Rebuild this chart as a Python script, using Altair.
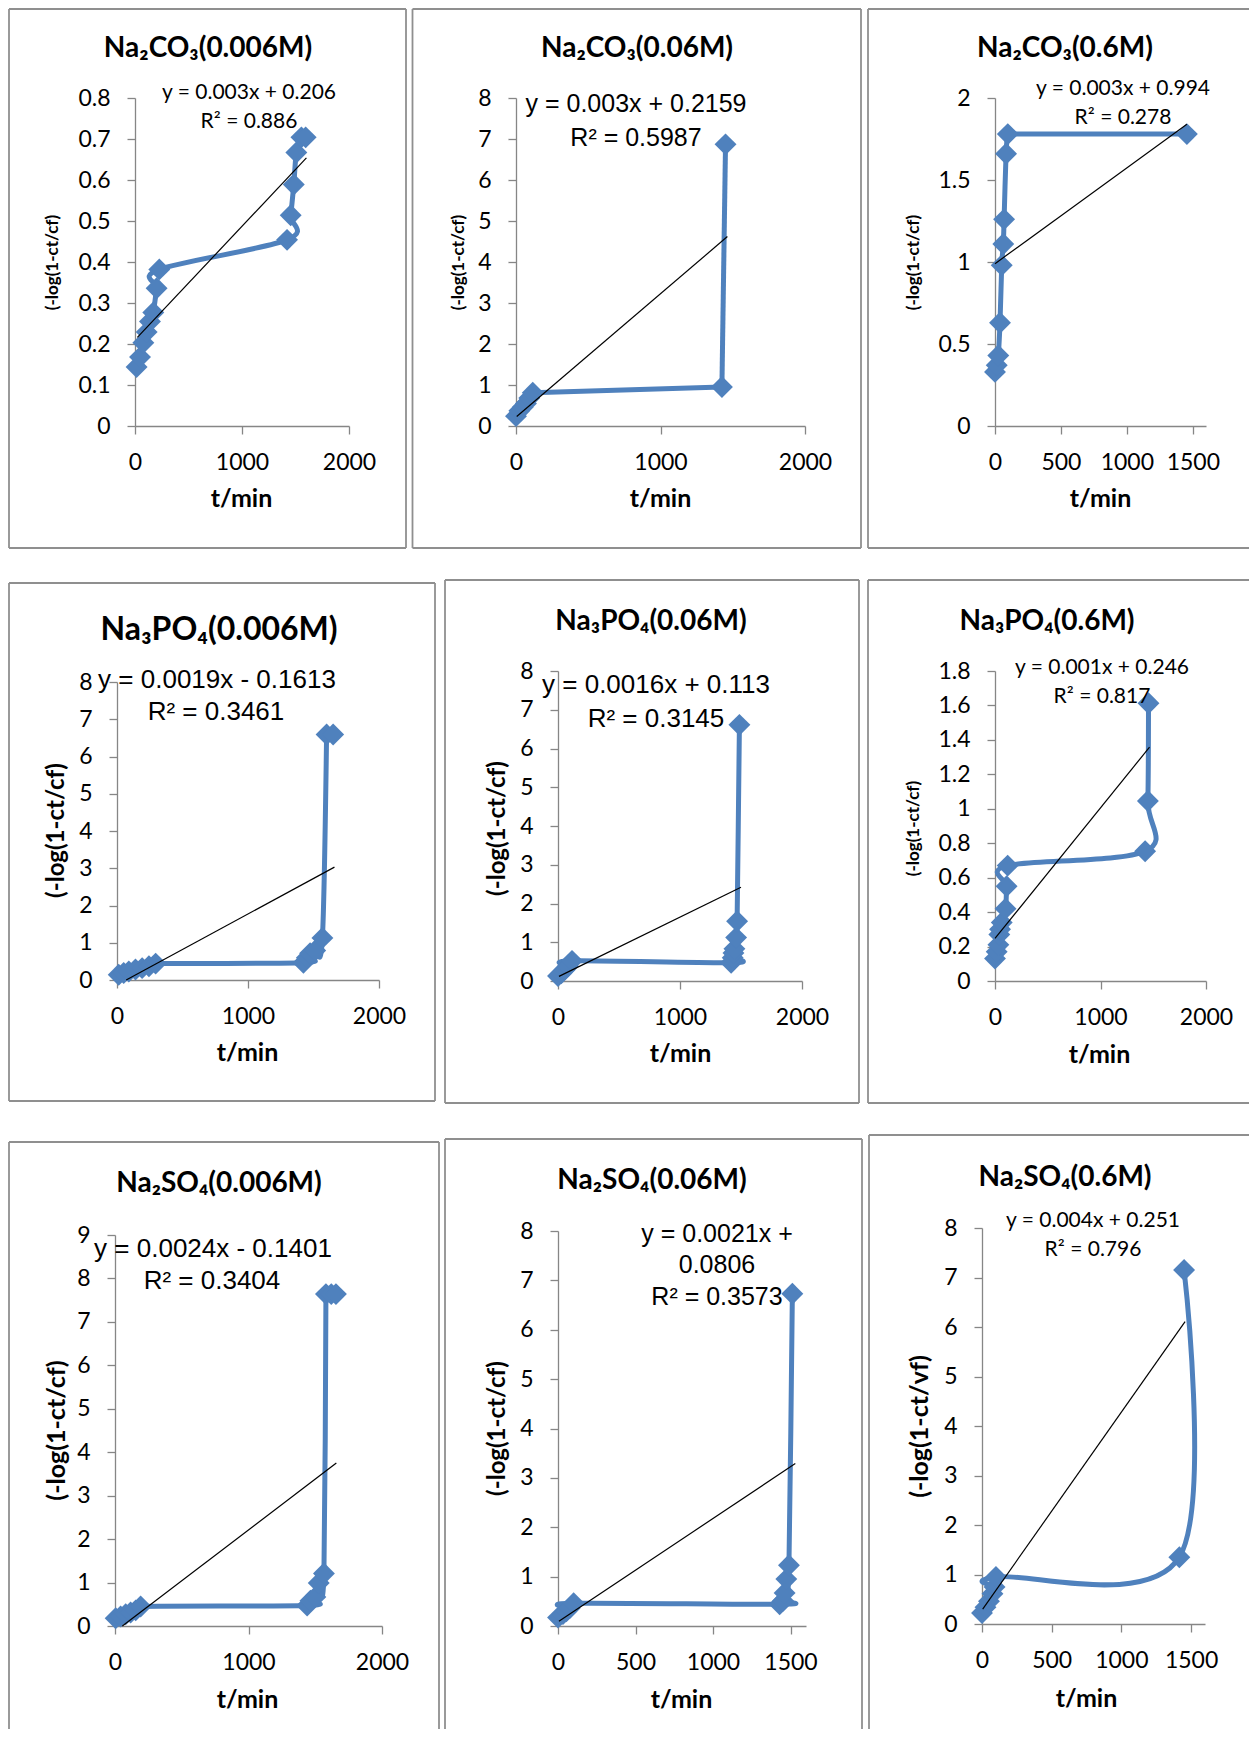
import altair as alt
import pandas as pd

# ---------------- data ----------------
p1_t = [15, 47, 78, 109, 140, 171, 202, 227, 1421, 1455, 1484, 1508, 1555, 1595]
p1_y = [0.144, 0.168, 0.203, 0.229, 0.255, 0.277, 0.336, 0.382, 0.454, 0.514, 0.589, 0.667, 0.704, 0.704]
p1_tr_t = [22, 1602]
p1_tr_y = [0.216, 0.654]

p2_t = [0, 23, 46, 69, 92, 116, 1425, 1450]
p2_y = [0.24, 0.37, 0.46, 0.55, 0.68, 0.81, 0.95, 6.87]
p2_tr_t = [5, 1463]
p2_tr_y = [0.23, 4.62]

p3_t = [0, 13, 25, 38, 51, 63, 69, 84, 97, 1455]
p3_y = [0.33, 0.37, 0.43, 0.63, 0.98, 1.11, 1.26, 1.66, 1.78, 1.78]
p3_tr_t = [0, 1455]
p3_tr_y = [0.99, 1.84]

p4_t = [13, 51, 90, 141, 192, 244, 295, 1423, 1449, 1474, 1513, 1568, 1600, 1650]
p4_y = [0.14, 0.19, 0.23, 0.28, 0.32, 0.37, 0.44, 0.46, 0.6, 0.72, 0.79, 1.13, 6.59, 6.59]
p4_tr_t = [70, 1660]
p4_tr_y = [0.0, 3.03]

p5_t = [0, 27, 55, 82, 115, 1419, 1432, 1438, 1446, 1460, 1468, 1487]
p5_y = [0.13, 0.2, 0.29, 0.38, 0.52, 0.47, 0.6, 0.72, 0.83, 1.12, 1.54, 6.61]
p5_tr_t = [8, 1500]
p5_tr_y = [0.12, 2.42]

p6_t = [0, 16, 32, 41, 48, 64, 100, 110, 120, 1423, 1449, 1455]
p6_y = [0.13, 0.17, 0.21, 0.27, 0.30, 0.34, 0.42, 0.55, 0.67, 0.753, 1.045, 1.613]
p6_tr_t = [0, 1465]
p6_tr_y = [0.247, 1.358]

p7_t = [5, 42, 80, 117, 155, 192, 1439, 1464, 1501, 1526, 1565, 1580, 1620, 1655]
p7_y = [0.18, 0.22, 0.27, 0.31, 0.36, 0.45, 0.47, 0.58, 0.67, 0.99, 1.21, 7.64, 7.64, 7.64]
p7_tr_t = [55, 1658]
p7_tr_y = [0.0, 3.75]

p8_t = [0, 32, 54, 75, 101, 1430, 1452, 1462, 1473, 1490, 1512]
p8_y = [0.17, 0.24, 0.30, 0.36, 0.46, 0.44, 0.51, 0.67, 0.95, 1.23, 6.73]
p8_tr_t = [6, 1531]
p8_tr_y = [0.095, 3.29]

p9_t = [0, 25, 50, 75, 90, 100, 1416, 1450]
p9_y = [0.22, 0.34, 0.46, 0.61, 0.75, 0.95, 1.35, 7.15]
p9_tr_t = [5, 1457]
p9_tr_y = [0.3, 6.11]

x_ticks_2000 = [0, 1000, 2000]
x_ticks_1500 = [0, 500, 1000, 1500]
p1_yticks = [0, 0.1, 0.2, 0.3, 0.4, 0.5, 0.6, 0.7, 0.8]
p3_yticks = [0, 0.5, 1, 1.5, 2]
p6_yticks = [0, 0.2, 0.4, 0.6, 0.8, 1, 1.2, 1.4, 1.6, 1.8]
yticks_8 = [0, 1, 2, 3, 4, 5, 6, 7, 8]
yticks_9 = [0, 1, 2, 3, 4, 5, 6, 7, 8, 9]

titles = ["Na₂CO₃(0.006M)", "Na₂CO₃(0.06M)", "Na₂CO₃(0.6M)",
          "Na₃PO₄(0.006M)", "Na₃PO₄(0.06M)", "Na₃PO₄(0.6M)",
          "Na₂SO₄(0.006M)", "Na₂SO₄(0.06M)", "Na₂SO₄(0.6M)"]
equations = [["y = 0.003x + 0.206", "R² = 0.886"],
             ["y = 0.003x + 0.2159", "R² = 0.5987"],
             ["y = 0.003x + 0.994", "R² = 0.278"],
             ["y = 0.0019x - 0.1613", "R² = 0.3461"],
             ["y = 0.0016x + 0.113", "R² = 0.3145"],
             ["y = 0.001x + 0.246", "R² = 0.817"],
             ["y = 0.0024x - 0.1401", "R² = 0.3404"],
             ["y = 0.0021x +", "0.0806", "R² = 0.3573"],
             ["y = 0.004x + 0.251", "R² = 0.796"]]
y_titles = ["(-log(1-ct/cf)"] * 8 + ["(-log(1-ct/vf)"]
x_title = "t/min"

BLUE = "#4F81BD"
GRAY = "#868686"
BOX = "#8F8F8F"
FONT = "Lato"
EQ_ARIAL = "Liberation Sans"

W, H = 1242, 1722      # one big drawing area; page coordinates below are shifted by the 8px margin
O = 8
TEXT_DY = 2

# ---------------- layout / style in page pixels ----------------
# 'brk': indices where the smoothed line is broken into separate smoothed pieces (sharp corners)
layout = [
    dict(t=p1_t, y=p1_y, tt=p1_tr_t, ty=p1_tr_y, xmax=2000, xticks=x_ticks_2000, ymax=0.8, yticks=p1_yticks,
         brk=[], px=(135, 349), py=(426, 98), box=(9, 9, 406, 548), sides="ltrb",
         tpos=(208, 47), tsize=28, eqpos=[(249, 91), (249, 120)], eqfont=FONT, eqsize=21,
         xt=(241, 498), yt=(52, 262), ytsize=17),
    dict(t=p2_t, y=p2_y, tt=p2_tr_t, ty=p2_tr_y, xmax=2000, xticks=x_ticks_2000, ymax=8, yticks=yticks_8,
         brk=[5, 6], px=(516, 805), py=(426, 98), box=(412.5, 9, 861, 548), sides="ltrb",
         tpos=(637, 47), tsize=28, eqpos=[(636, 102), (636, 136)], eqfont=EQ_ARIAL, eqsize=25,
         xt=(660, 498), yt=(458, 262), ytsize=17),
    dict(t=p3_t, y=p3_y, tt=p3_tr_t, ty=p3_tr_y, xmax=1600, xticks=x_ticks_1500, ymax=2, yticks=p3_yticks,
         brk=[8], px=(995, 1206), py=(426, 98), box=(868, 9, 1249, 548), sides="ltb",
         tpos=(1065, 47), tsize=28, eqpos=[(1123, 87), (1123, 116)], eqfont=FONT, eqsize=21,
         xt=(1100, 498), yt=(913, 262), ytsize=17),
    dict(t=p4_t, y=p4_y, tt=p4_tr_t, ty=p4_tr_y, xmax=2000, xticks=x_ticks_2000, ymax=8, yticks=yticks_8,
         brk=[12], px=(117, 379), py=(980, 682), box=(9, 583, 435, 1101), sides="ltrb",
         tpos=(219, 628), tsize=32, eqpos=[(217, 678), (216, 710)], eqfont=EQ_ARIAL, eqsize=26,
         xt=(247, 1052), yt=(56, 830), ytsize=24),
    dict(t=p5_t, y=p5_y, tt=p5_tr_t, ty=p5_tr_y, xmax=2000, xticks=x_ticks_2000, ymax=8, yticks=yticks_8,
         brk=[], px=(558, 802), py=(981, 671), box=(445, 580, 859, 1103), sides="ltrb",
         tpos=(651, 620), tsize=28, eqpos=[(656, 683), (656, 717)], eqfont=EQ_ARIAL, eqsize=26,
         xt=(680, 1053), yt=(497, 828), ytsize=24),
    dict(t=p6_t, y=p6_y, tt=p6_tr_t, ty=p6_tr_y, xmax=2000, xticks=x_ticks_2000, ymax=1.8, yticks=p6_yticks,
         brk=[], px=(995, 1206), py=(981, 671), box=(868, 580, 1249, 1103), sides="ltb",
         tpos=(1047, 620), tsize=28, eqpos=[(1102, 666), (1102, 695)], eqfont=FONT, eqsize=21,
         xt=(1099, 1054), yt=(913, 828), ytsize=17),
    dict(t=p7_t, y=p7_y, tt=p7_tr_t, ty=p7_tr_y, xmax=2000, xticks=x_ticks_2000, ymax=9, yticks=yticks_9,
         brk=[11], px=(115, 382), py=(1626, 1235), box=(9, 1142, 439, 1729), sides="ltr",
         tpos=(219, 1182), tsize=28, eqpos=[(213, 1247), (212, 1279)], eqfont=EQ_ARIAL, eqsize=26,
         xt=(247, 1699), yt=(56, 1430), ytsize=25),
    dict(t=p8_t, y=p8_y, tt=p8_tr_t, ty=p8_tr_y, xmax=1600, xticks=x_ticks_1500, ymax=8, yticks=yticks_8,
         brk=[], px=(558, 806), py=(1626, 1231), box=(445, 1139, 862, 1729), sides="ltr",
         tpos=(652, 1179), tsize=28, eqpos=[(717, 1232), (717, 1263), (717, 1295)], eqfont=EQ_ARIAL, eqsize=25,
         xt=(681, 1699), yt=(497, 1428), ytsize=24),
    dict(t=p9_t, y=p9_y, tt=p9_tr_t, ty=p9_tr_y, xmax=1600, xticks=x_ticks_1500, ymax=8, yticks=yticks_8,
         brk=[], px=(982, 1205), py=(1624, 1228), box=(869, 1135, 1249, 1729), sides="lt",
         tpos=(1065, 1176), tsize=28, eqpos=[(1093, 1219), (1093, 1248)], eqfont=FONT, eqsize=21,
         xt=(1086, 1698), yt=(919, 1426), ytsize=25),
]

one = pd.DataFrame({"a": [0]})


def rule(x1, y1, x2, y2):
    return alt.Chart(one).mark_rule(color=BOX, strokeWidth=1.8).encode(
        x=alt.value(x1 - O), y=alt.value(y1 - O), x2=alt.value(x2 - O), y2=alt.value(y2 - O))


def text(s, pos, font, size, weight="normal"):
    return alt.Chart(pd.DataFrame({"s": [s]})).mark_text(
        font=font, fontSize=size, fontWeight=weight, color="black", align="center", baseline="middle"
    ).encode(text="s:N", x=alt.value(pos[0] - O), y=alt.value(pos[1] - O + TEXT_DY))


def pieces(t, y, brk):
    """Split the series into smoothed pieces that share their end points."""
    bounds = [0] + list(brk) + [len(t) - 1]
    rows = []
    n = 0
    for s in range(len(bounds) - 1):
        for i in range(bounds[s], bounds[s + 1] + 1):
            rows.append({"t": t[i], "y": y[i], "seg": s, "i": n})
            n += 1
    return pd.DataFrame(rows)


def panel_layers(k):
    p = layout[k]
    df = pd.DataFrame({"t": p["t"], "y": p["y"]})
    ln = pieces(p["t"], p["y"], p["brk"])
    tr = pd.DataFrame({"t": p["tt"], "y": p["ty"]})
    x0, x1 = p["px"][0] - O, p["px"][1] - O
    yb, yt = p["py"][0] - O, p["py"][1] - O
    xs = alt.Scale(domain=[0, p["xmax"]], range=[x0, x1], nice=False, zero=False)
    ys = alt.Scale(domain=[0, p["ymax"]], range=[yb, yt], nice=False, zero=False)
    xaxis = alt.Axis(orient="bottom", offset=-(H - yb), values=p["xticks"], format="d",
                     title=x_title, titleX=p["xt"][0] - O, titleY=p["xt"][1] - p["py"][0],
                     titleAlign="center", titleBaseline="middle", titleFontSize=25, labelPadding=17)
    yaxis = alt.Axis(orient="left", offset=-x0, values=p["yticks"], format="~g",
                     title=y_titles[k], titleX=p["yt"][0] - p["px"][0], titleY=p["yt"][1] - O,
                     titleAngle=270, titleAlign="center", titleBaseline="middle",
                     titleFontSize=p["ytsize"], labelPadding=17)
    bx1, by1, bx2, by2 = p["box"]
    layers = []
    if "l" in p["sides"]:
        layers.append(rule(bx1, by1, bx1, by2))
    if "t" in p["sides"]:
        layers.append(rule(bx1, by1, bx2, by1))
    if "r" in p["sides"]:
        layers.append(rule(bx2, by1, bx2, by2))
    if "b" in p["sides"]:
        layers.append(rule(bx1, by2, bx2, by2))

    line = alt.Chart(ln).mark_line(interpolate="cardinal", color=BLUE, strokeWidth=5).encode(
        x=alt.X("t:Q", scale=xs, axis=xaxis),
        y=alt.Y("y:Q", scale=ys, axis=yaxis),
        detail="seg:N",
        order="i:Q")
    pts = alt.Chart(df).mark_point(shape="diamond", filled=True, size=480, color=BLUE, opacity=1).encode(
        x=alt.X("t:Q", scale=xs, axis=None),
        y=alt.Y("y:Q", scale=ys, axis=None))
    trend = alt.Chart(tr).mark_line(color="black", strokeWidth=1.2).encode(
        x=alt.X("t:Q", scale=xs, axis=None),
        y=alt.Y("y:Q", scale=ys, axis=None))
    layers += [line, pts, trend]
    layers.append(text(titles[k], p["tpos"], FONT, p["tsize"], "bold"))
    for s, pos in zip(equations[k], p["eqpos"]):
        layers.append(text(s, pos, p["eqfont"], p["eqsize"]))
    return layers


all_layers = []
for k in range(9):
    all_layers += panel_layers(k)

chart = alt.layer(*all_layers).resolve_scale(x="independent", y="independent").properties(
    width=W, height=H, padding=0, background="white"
).configure_view(stroke="transparent").configure_axis(
    grid=False, domainColor=GRAY, tickColor=GRAY, domainWidth=1.3, tickWidth=1.3, tickSize=8,
    labelFont=FONT, labelFontSize=23, labelColor="black", labelFlush=False, labelOverlap=False,
    titleFont=FONT, titleFontWeight="bold", titleColor="black"
)

chart.save("out.html", embed_options={"renderer": "svg", "actions": False})
